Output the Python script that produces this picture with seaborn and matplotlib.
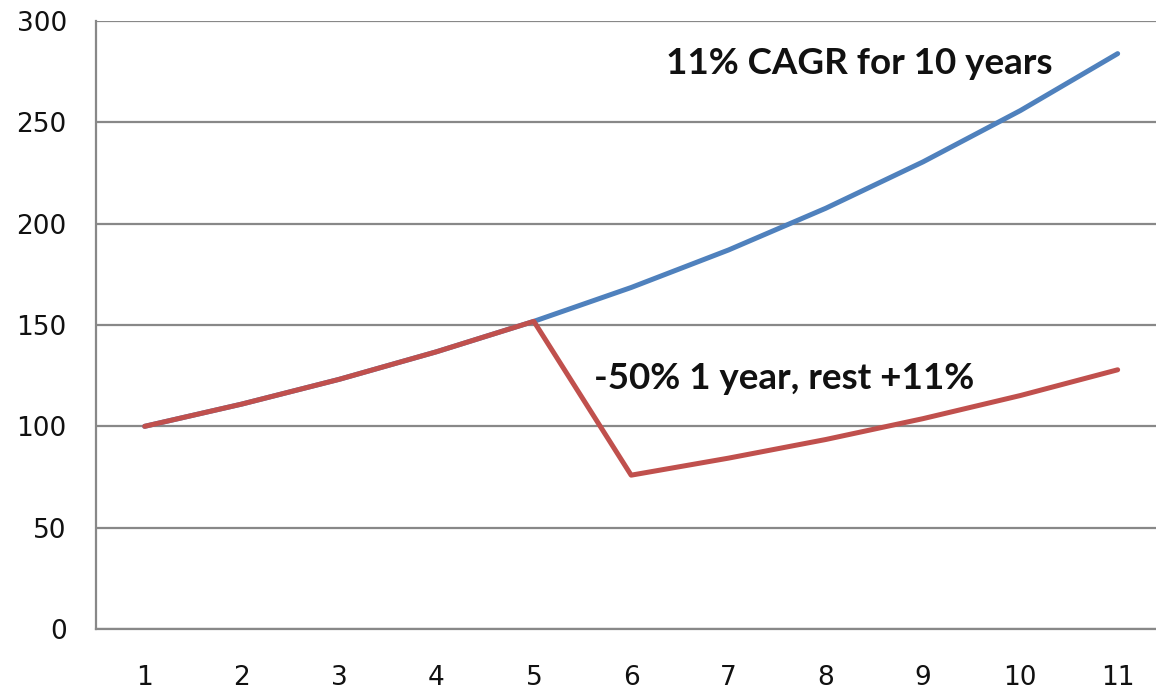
import pandas as pd
import matplotlib
matplotlib.use('Agg')
import matplotlib.pyplot as plt
import seaborn as sns

years = [1, 2, 3, 4, 5, 6, 7, 8, 9, 10, 11]
steady = [100, 111, 123.2, 136.8, 151.8, 168.5, 187, 207.6, 230.5, 255.8, 283.9]
crash = [100, 111, 123.2, 136.8, 151.8, 75.9, 84.3, 93.5, 103.8, 115.2, 127.9]
y_ticks = [0, 50, 100, 150, 200, 250, 300]

df = pd.DataFrame({
    'year': years * 2,
    'value': steady + crash,
    'series': ['steady'] * len(years) + ['crash'] * len(years),
})

sns.set_style('white')
plt.rcParams['font.family'] = ['DejaVu Sans']

fig = plt.figure(figsize=(11.56, 6.89), dpi=100)
ax = fig.add_axes([96 / 1156, 1 - 629 / 689, 1 - 96 / 1156, (629 - 21) / 689])

sns.lineplot(
    data=df, x='year', y='value', hue='series',
    palette={'steady': '#4F81BD', 'crash': '#C0504D'},
    linewidth=3.6, legend=False, ax=ax,
)

grid_col = '#888888'
ax.set_yticks(y_ticks)
ax.set_yticklabels([str(t) for t in y_ticks], fontsize=19, color='#111111')
ax.yaxis.grid(True, color=grid_col, linewidth=1.6)
ax.set_axisbelow(True)

ax.set_xticks(years)
ax.set_xticklabels([str(y) for y in years], fontsize=19, color='#111111')
ax.set_xticks([y + 0.5 for y in [0] + years], minor=True)
ax.tick_params(axis='x', which='major', length=0, pad=26)
ax.tick_params(axis='x', which='minor', length=8, width=1.6, color=grid_col)
ax.tick_params(axis='y', length=8, width=1.6, color=grid_col, pad=13)

# limits last, set_xticks would widen them again
ax.set_xlim(0.5, 0.5 + (1156 - 96) / 97.3)
ax.set_ylim(0, 300)

for side in ['top', 'right']:
    ax.spines[side].set_visible(False)
for side in ['left', 'bottom']:
    ax.spines[side].set_color(grid_col)
    ax.spines[side].set_linewidth(1.6)

ax.set_xlabel('')
ax.set_ylabel('')

ax.text(6.355, 279.0, '11% CAGR for 10 years', fontsize=26.5, fontweight='bold',
        family=['Lato', 'DejaVu Sans'], ha='left', va='center', color='#111111')
ax.text(5.615, 123.5, '-50% 1 year, rest +11%', fontsize=26.5, fontweight='bold',
        family=['Lato', 'DejaVu Sans'], ha='left', va='center', color='#111111')

fig.savefig('out.png', dpi=100)
